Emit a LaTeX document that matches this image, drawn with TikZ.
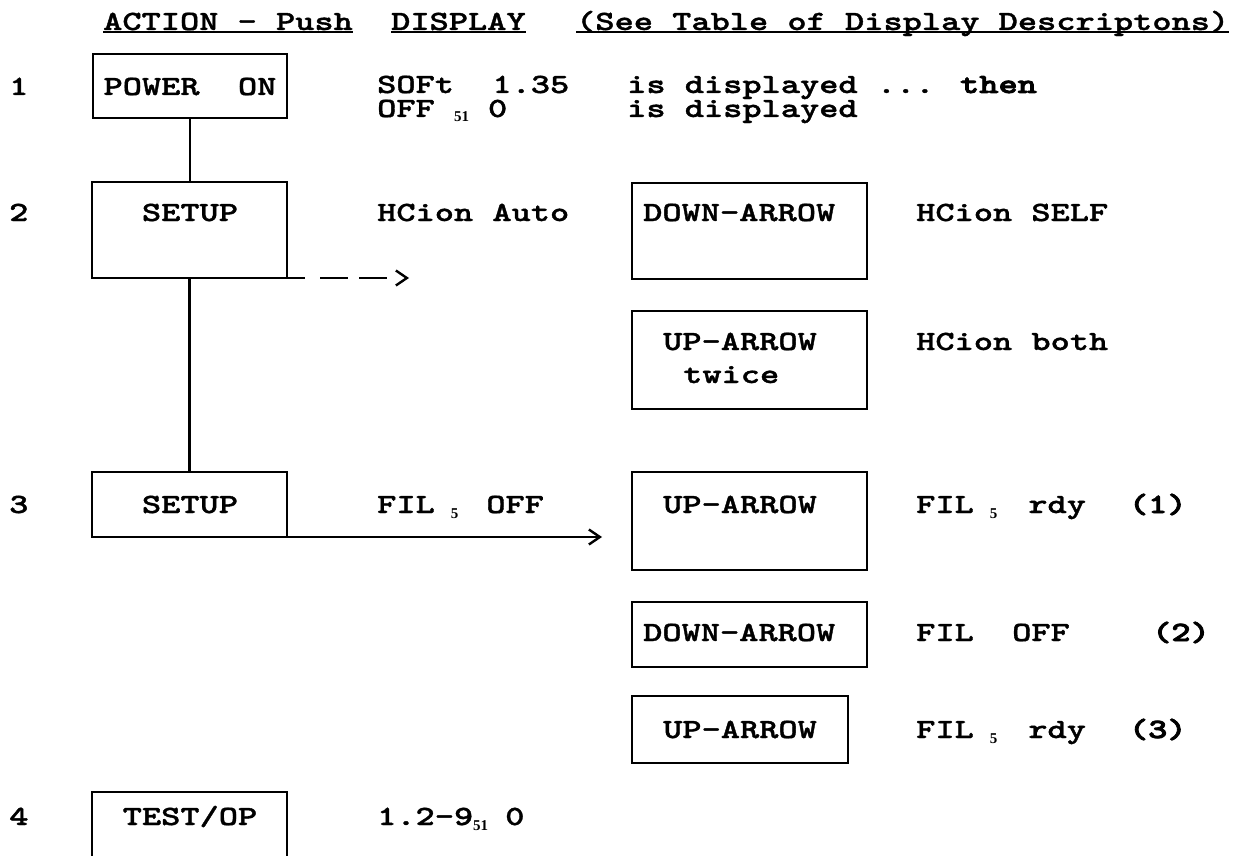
\documentclass[tikz,border=0pt]{standalone}
\usepackage{fontspec}
\usetikzlibrary{arrows.meta}
\newfontfamily\basemono{lmmonolt10-bold}[Extension=.otf,FakeStretch=1.316,FakeBold=1.3]
\newfontfamily\heavymono{lmmonolt10-bold}[Extension=.otf,FakeStretch=1.316,FakeBold=3]
\newfontfamily\subserif{Liberation Serif}
\newcommand\bodyfont{\basemono\fontsize{27.8pt}{31pt}\selectfont\spaceskip=19.2pt\relax}
\newcommand\heavy[1]{{\heavymono #1}}
\newcommand\subsc[1]{\raisebox{-5pt}{\subserif\bfseries\fontsize{15pt}{15pt}\selectfont #1}}
\newcommand\gap[1]{\hspace*{#1pt}}
\tikzset{
  box/.style={draw, line width=2.6pt, rectangle, inner sep=0pt, outer sep=0pt, anchor=north west},
  txt/.style={inner sep=0pt, anchor=base west, font=\bodyfont},
  ctxt/.style={txt, anchor=base},
  tight/.style={text height=18pt, text depth=4pt},
  conn/.style={line width=2.4pt},
  uline/.style={line width=2pt},
  tip/.style={-{Straight Barb[length=11pt,width=15pt]}}
}
\begin{document}
\begin{tikzpicture}[x=1pt,y=-1pt]
\fill[white] (0,0) rectangle (1236,856);
\useasboundingbox (0,0) rectangle (1236,856);

% header
\node[txt] (hdrA) at (103,30) {ACTION - Push};
\node[txt] (hdrB) at (391,30) {DISPLAY};
\node[txt] (hdrC) at (576,30) {(See Table of Display Descriptons)};
\foreach \h in {hdrA,hdrB,hdrC}
  \draw[uline] ([yshift=-2.5pt]\h.base west) -- ([yshift=-2.5pt]\h.base east);

% boxes
\node[box, minimum width=194pt, minimum height=64pt] (powerA) at (93,54) {};
\node[box, minimum width=195pt, minimum height=96pt] (setupB) at (92,182) {};
\node[box, minimum width=235pt, minimum height=96pt] (downB) at (632,183) {};
\node[box, minimum width=235pt, minimum height=98pt] (uptwice) at (632,311) {};
\node[box, minimum width=195pt, minimum height=65pt] (setupC) at (92,472) {};
\node[box, minimum width=235pt, minimum height=98pt] (upC) at (632,472) {};
\node[box, minimum width=235pt, minimum height=65pt] (downC) at (632,602) {};
\node[box, minimum width=216pt, minimum height=67pt] (upD) at (632,696) {};
\node[box, minimum width=195pt, minimum height=65pt] (testD) at (92,792) {};

% connectors
\draw[conn] (powerA.south) -- (powerA.south |- setupB.north);
\draw[conn] (setupB.south) -- (setupB.south |- setupC.north);
\coordinate (dashend) at (409,278);
\draw[conn, tip, dash pattern=on 18pt off 15pt on 28pt off 11pt on 28pt off 40pt] (setupB.south east) -- (dashend);
\coordinate (solidend) at (602,537);
\draw[conn, tip] (setupC.south east) -- (solidend);

% row 1
\node[txt] (n1) at (9,95) {1};
\node[ctxt] (powerT) at (190,95) {POWER\ \ ON};
\node[txt, tight] (d1a) at (377,93) {SOFt\ \ 1.35};
\node[txt, tight] (d1b) at (627,93) {is displayed ... \heavy{then}};
\node[txt, tight] (d1c) at (377,117) {OFF \subsc{51}\gap{19}0};
\node[txt, tight] (d1d) at (627,117) {is displayed};

% row 2
\node[txt] (n2) at (9,221) {2};
\node[ctxt] (setupBt) at (190,221) {SETUP};
\node[txt] (d2a) at (377,221) {HCion Auto};
\node[txt] (downBt) at (643,221) {DOWN-ARROW};
\node[txt] (d2b) at (916,221) {HCion SELF};
\node[txt] (uptwiceT1) at (663,350) {UP-ARROW};
\node[txt] (uptwiceT2) at (683,383) {twice};
\node[txt] (d2c) at (916,350) {HCion both};

% row 3
\node[txt] (n3) at (9,513) {3};
\node[ctxt] (setupCt) at (190,513) {SETUP};
\node[txt] (d3a) at (377,513) {FIL\gap{16}\subsc{5}\gap{28}OFF};
\node[txt] (upCt) at (663,513) {UP-ARROW};
\node[txt] (d3b) at (916,513) {FIL\gap{16}\subsc{5}\gap{31}rdy\gap{43}\heavy{(1)}};
\node[txt] (downCt) at (643,641) {DOWN-ARROW};
\node[txt] (d3c) at (916,641) {FIL\ \ OFF};
\node[txt] (d3d) at (1152,641) {\heavy{(2)}};
\node[txt] (upDt) at (663,738) {UP-ARROW};
\node[txt] (d3e) at (916,738) {FIL\gap{16}\subsc{5}\gap{31}rdy\gap{43}\heavy{(3)}};

% row 4
\node[txt] (n4) at (9,825) {4};
\node[ctxt] (testDt) at (190,825) {TEST/OP};
\node[txt] (d4a) at (377,825) {1.2-9\subsc{51}\gap{17}0};
\end{tikzpicture}
\end{document}
